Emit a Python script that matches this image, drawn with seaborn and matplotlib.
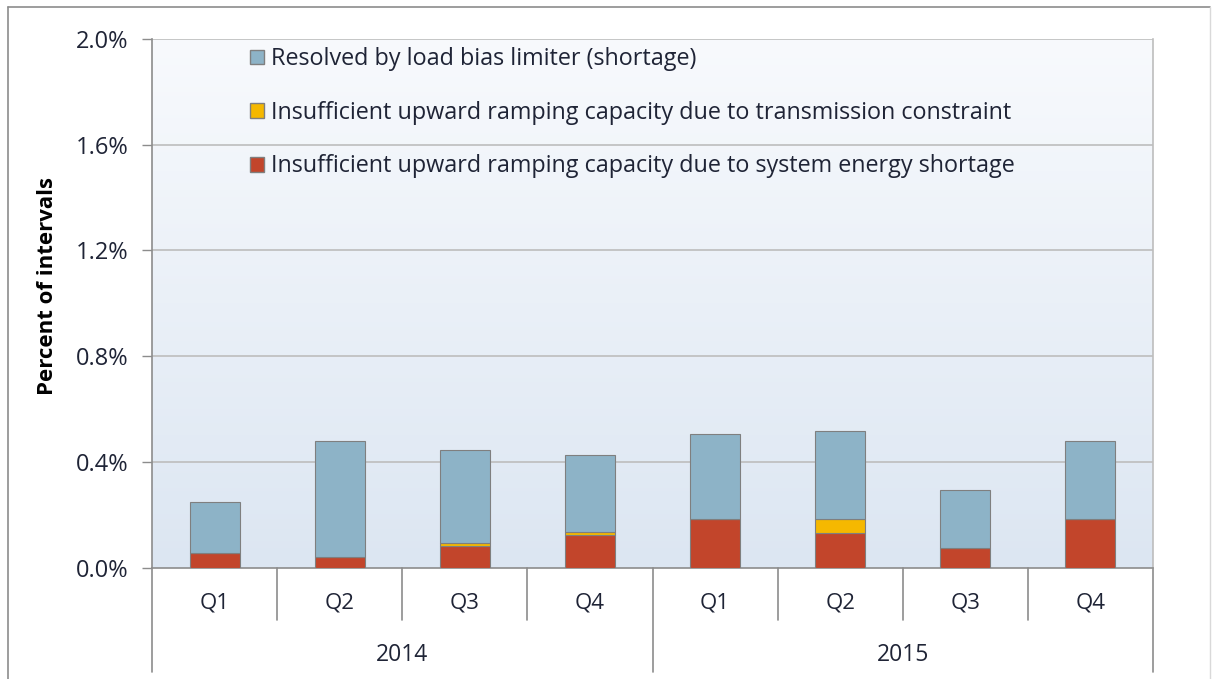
import numpy as np
import pandas as pd
import matplotlib
matplotlib.use("Agg")
import matplotlib.pyplot as plt
from matplotlib.colors import LinearSegmentedColormap
from matplotlib.patches import Patch
import matplotlib.transforms as mtransforms
import seaborn as sns

# ---- data (percent of intervals) ----
years = ["2014", "2014", "2014", "2014", "2015", "2015", "2015", "2015"]
quarters = ["Q1", "Q2", "Q3", "Q4", "Q1", "Q2", "Q3", "Q4"]
energy_shortage = [0.055, 0.043, 0.083, 0.125, 0.185, 0.133, 0.077, 0.185]
transmission = [0.0, 0.0, 0.010, 0.012, 0.0, 0.054, 0.0, 0.0]
load_bias = [0.193, 0.436, 0.352, 0.289, 0.323, 0.331, 0.217, 0.294]

lbl_bias = "Resolved by load bias limiter (shortage)"
lbl_trans = "Insufficient upward ramping capacity due to transmission constraint"
lbl_energy = "Insufficient upward ramping capacity due to system energy shortage"

C_BIAS = "#8DB3C7"
C_TRANS = "#F5B800"
C_ENERGY = "#C2452B"
TXT = "#1F2436"

sns.set_style("white")
plt.rcParams["font.family"] = ["Open Sans", "DejaVu Sans"]

df = pd.DataFrame({
    "cat": [f"{y} {q}" for y, q in zip(years, quarters)],
    "energy": energy_shortage,
    "trans": transmission,
    "bias": load_bias,
})
df["bottom_bias"] = df["energy"] + df["trans"]

fig = plt.figure(figsize=(12.12, 6.79), dpi=100)
ax = fig.add_axes([152 / 1212, 1 - 568 / 679, 1001 / 1212, 529.3 / 679])

# gradient background of the plot area
cmap = LinearSegmentedColormap.from_list("bg", ["#DCE6F2", "#F8FAFD"])
grad = np.linspace(0, 1, 256).reshape(-1, 1)
ax.imshow(grad, cmap=cmap, origin="lower", aspect="auto",
          extent=[-0.5, 7.5, 0, 2.0], zorder=0)

order = list(df["cat"])
kw = dict(order=order, width=0.4, edgecolor="#7F7F7F", linewidth=0.8,
          saturation=1, zorder=3, ax=ax)
sns.barplot(data=df, x="cat", y="energy", color=C_ENERGY, **kw)
sns.barplot(data=df, x="cat", y="trans", bottom=df["energy"], color=C_TRANS, **kw)
sns.barplot(data=df, x="cat", y="bias", bottom=df["bottom_bias"], color=C_BIAS, **kw)

ax.set_xlim(-0.5, 7.5)
ax.set_ylim(0, 2.0)
yt = [0, 0.4, 0.8, 1.2, 1.6, 2.0]
ax.set_yticks(yt)
ax.set_yticklabels([f"{v:.1f}%" for v in yt], fontsize=17, color=TXT)
for v in yt[1:]:
    ax.axhline(v, color="#BDBDBD", lw=1.2, zorder=1)
ax.tick_params(axis="y", length=7, width=1, color="#8C8C8C", pad=10, left=True)
ax.set_xticks([])
ax.set_xlabel("")
ax.set_ylabel("Percent of intervals", fontsize=16, fontweight="bold", color="black")
ax.yaxis.set_label_coords(-0.094, 0.533)

for s in ["left", "bottom", "right"]:
    ax.spines[s].set_color("#8C8C8C")
    ax.spines[s].set_linewidth(1.2)
ax.spines["right"].set_color("#BDBDBD")
ax.spines["top"].set_visible(False)

# two-level category axis
trans = mtransforms.blended_transform_factory(ax.transData, ax.transAxes)
for i, q in enumerate(quarters):
    ax.text(i, -0.066, q, transform=trans, ha="center", va="center", fontsize=16, color=TXT)
for b in [0.5, 1.5, 2.5, 4.5, 5.5, 6.5]:
    ax.plot([b, b], [0, -0.098], transform=trans, color="#8C8C8C", lw=1.2, clip_on=False)
for b in [-0.5, 3.5, 7.5]:
    ax.plot([b, b], [0, -0.197], transform=trans, color="#8C8C8C", lw=1.2, clip_on=False)
ax.text(1.5, -0.164, "2014", transform=trans, ha="center", va="center", fontsize=16.5, color=TXT)
ax.text(5.5, -0.164, "2015", transform=trans, ha="center", va="center", fontsize=16.5, color=TXT)

handles = [Patch(facecolor=C_BIAS, edgecolor="#7F7F7F"),
           Patch(facecolor=C_TRANS, edgecolor="#7F7F7F"),
           Patch(facecolor=C_ENERGY, edgecolor="#7F7F7F")]
leg = ax.legend(handles, [lbl_bias, lbl_trans, lbl_energy], loc="upper left",
                bbox_to_anchor=(0.080, 1.017), frameon=False, fontsize=16.8,
                handlelength=0.6, handleheight=0.6, handletextpad=0.3,
                labelspacing=1.27, borderpad=0.25)
for t in leg.get_texts():
    t.set_color(TXT)

# outer chart frame
fig.add_artist(plt.Line2D([8 / 1212, 8 / 1212], [0, 1 - 7 / 679], transform=fig.transFigure, color="#8C8C8C", lw=1.2))
fig.add_artist(plt.Line2D([8 / 1212, 1210 / 1212], [1 - 7 / 679, 1 - 7 / 679], transform=fig.transFigure, color="#8C8C8C", lw=1.2))
fig.add_artist(plt.Line2D([1210 / 1212, 1210 / 1212], [0, 1 - 7 / 679], transform=fig.transFigure, color="#D9D9D9", lw=1.0))

fig.savefig("out.png", dpi=100)
